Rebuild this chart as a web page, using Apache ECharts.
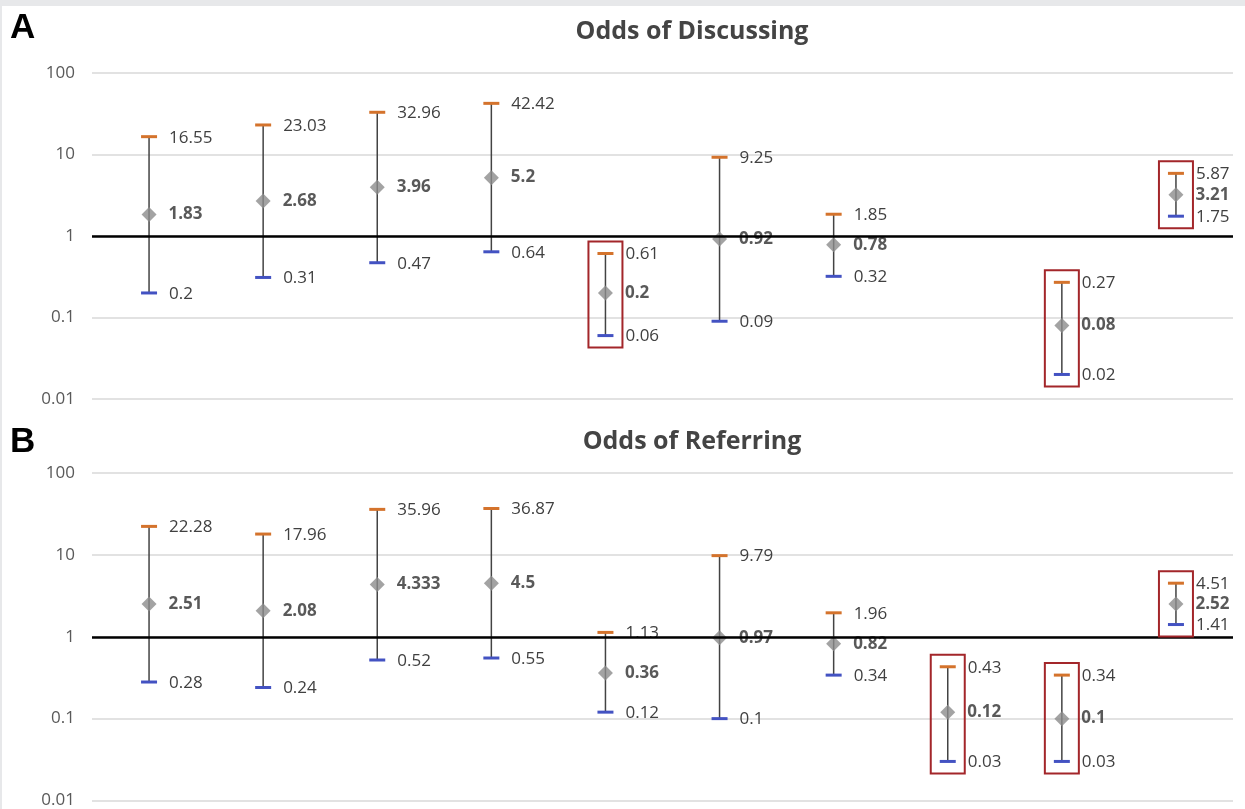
<!DOCTYPE html>
<html><head><meta charset="utf-8">
<script src="https://cdn.jsdelivr.net/npm/echarts@6/dist/echarts.min.js"></script>
<style>
html,body{margin:0;padding:0;background:#e7e8ea;width:1245px;height:809px;overflow:hidden}
#c{position:absolute;left:2px;top:6px;width:1243px;height:803px;background:#fff}
</style></head><body><div id="c"></div>
<script>
const categories = ['1','2','3','4','5','6','7','8','9','10'];
const yTicks = [0.01, 0.1, 1, 10, 100];
const panelLetters = ['A', 'B'];
const panelTitles = ['Odds of Discussing', 'Odds of Referring'];

const discussOR   = [1.83, 2.68, 3.96, 5.2, 0.2, 0.92, 0.78, null, 0.08, 3.21];
const discussLow  = [0.2, 0.31, 0.47, 0.64, 0.06, 0.09, 0.32, null, 0.02, 1.75];
const discussHigh = [16.55, 23.03, 32.96, 42.42, 0.61, 9.25, 1.85, null, 0.27, 5.87];
const discussBoxed = [0, 0, 0, 0, 1, 0, 0, 0, 1, 1];

const referOR   = [2.51, 2.08, 4.333, 4.5, 0.36, 0.97, 0.82, 0.12, 0.1, 2.52];
const referLow  = [0.28, 0.24, 0.52, 0.55, 0.12, 0.1, 0.34, 0.03, 0.03, 1.41];
const referHigh = [22.28, 17.96, 35.96, 36.87, 1.13, 9.79, 1.96, 0.43, 0.34, 4.51];
const referBoxed = [0, 0, 0, 0, 0, 0, 0, 1, 1, 1];

const FONT = '"Open Sans", "DejaVu Sans", sans-serif';
const ORANGE = '#d4732c';
const BLUE = '#4352c2';
const DIAMOND = '#8c8c8c';
const BAR = '#434343';
const BOX = '#a3262a';
const TXT = '#404040';

const panels = [
  {or: discussOR, low: discussLow, high: discussHigh, boxed: discussBoxed},
  {or: referOR, low: referLow, high: referHigh, boxed: referBoxed}
];

function renderErr(params, api) {
  const i = api.value(0), lo = api.value(1), hi = api.value(2);
  const pLo = api.coord([i, lo]);
  const pHi = api.coord([i, hi]);
  const cx = pLo[0];
  const tx = cx + 20;
  const base = {fontFamily: FONT, fontSize: 17, fill: TXT, align: 'left', verticalAlign: 'middle'};
  return {type: 'group', children: [
    {type: 'line', shape: {x1: cx, y1: pHi[1], x2: cx, y2: pLo[1]}, style: {stroke: BAR, lineWidth: 1.5}},
    {type: 'rect', shape: {x: cx - 8, y: pHi[1] - 1.5, width: 16, height: 3}, style: {fill: ORANGE}},
    {type: 'rect', shape: {x: cx - 8, y: pLo[1] - 1.5, width: 16, height: 3}, style: {fill: BLUE}},
    {type: 'text', style: Object.assign({text: String(hi), x: tx, y: pHi[1] + 1}, base)},
    {type: 'text', style: Object.assign({text: String(lo), x: tx, y: pLo[1] + 1}, base)}
  ]};
}

function renderBox(params, api) {
  const i = api.value(0), lo = api.value(1), hi = api.value(2);
  const pLo = api.coord([i, lo]);
  const pHi = api.coord([i, hi]);
  const cx = pLo[0];
  return {type: 'rect', shape: {x: cx - 17, y: pHi[1] - 12, width: 34, height: (pLo[1] - pHi[1]) + 24},
    style: {fill: 'none', stroke: BOX, lineWidth: 2}};
}

const grids = [
  {left: 90, top: 67, width: 1141, height: 326},
  {left: 90, top: 467, width: 1141, height: 330}
];

const xAxes = [], yAxes = [], series = [];
panels.forEach((p, g) => {
  xAxes.push({type: 'category', gridIndex: g, data: categories, boundaryGap: true,
    axisLine: {show: false}, axisTick: {show: false}, axisLabel: {show: false}, splitLine: {show: false}});
  yAxes.push({type: 'log', logBase: 10, gridIndex: g, min: yTicks[0], max: yTicks[yTicks.length - 1],
    axisLine: {show: false}, axisTick: {show: false},
    axisLabel: {fontFamily: FONT, fontSize: 17, color: '#595959', margin: 17,
      formatter: v => { const t = yTicks.find(k => Math.abs(k - v) / k < 1e-6); return t === undefined ? '' : String(t); }},
    splitLine: {lineStyle: {color: '#d9d9d9', width: 1.5}}});
  const errData = [], ptData = [], boxData = [];
  p.or.forEach((v, i) => {
    if (v == null) return;
    errData.push([i, p.low[i], p.high[i]]);
    ptData.push([i, v]);
    if (p.boxed[i]) boxData.push([i, p.low[i], p.high[i]]);
  });
  series.push({type: 'custom', xAxisIndex: g, yAxisIndex: g, renderItem: renderErr, data: errData,
    encode: {x: 0, y: [1, 2]}, z: 2, silent: true});
  series.push({type: 'scatter', xAxisIndex: g, yAxisIndex: g, data: [], z: 3, silent: true,
    markLine: {silent: true, symbol: 'none', animation: false, label: {show: false},
      lineStyle: {color: '#000', width: 2.5, type: 'solid'}, data: [{yAxis: 1}]}});
  series.push({type: 'scatter', xAxisIndex: g, yAxisIndex: g, data: ptData, symbol: 'diamond', symbolSize: 15,
    itemStyle: {color: DIAMOND}, z: 4, silent: true,
    label: {show: true, position: 'right', distance: 12, fontFamily: FONT, fontSize: 17, fontWeight: 'bold',
      color: '#303030', formatter: d => String(d.value[1])}});
  series.push({type: 'custom', xAxisIndex: g, yAxisIndex: g, renderItem: renderBox, data: boxData,
    encode: {x: 0, y: [1, 2]}, z: 5, silent: true});
});

const titles = [];
panelLetters.forEach((L, g) => {
  titles.push({text: L, left: 3, top: g === 0 ? 0 : 414,
    textStyle: {fontFamily: '"Liberation Sans", Arial, sans-serif', fontSize: 35, fontWeight: 'bold', color: '#000'}});
  titles.push({text: panelTitles[g], left: 685, textAlign: 'center', top: g === 0 ? 8 : 418,
    textStyle: {fontFamily: FONT, fontSize: 25, fontWeight: 'bold', color: '#444'}});
});

const chart = echarts.init(document.getElementById('c'));
chart.setOption({
  animation: false,
  backgroundColor: '#fff',
  title: titles,
  grid: grids,
  xAxis: xAxes,
  yAxis: yAxes,
  series: series
});
</script></body></html>
